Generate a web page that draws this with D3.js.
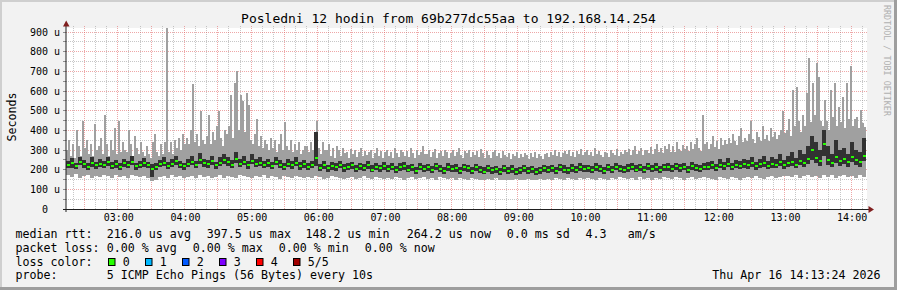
<!DOCTYPE html>
<html><head><meta charset="utf-8">
<script src="https://cdn.jsdelivr.net/npm/d3@7"></script>
<style>
html,body{margin:0;padding:0;background:#f2f2f2;}
svg{display:block;}
text{font-family:"DejaVu Sans Mono",monospace;}
</style></head><body><svg id="c" width="897" height="290"></svg>
<script>
const titleText = "Posledni 12 hodin from 69b277dc55aa to 192.168.14.254";
const startStamp = "2026-04-16 02:13:24";
const endStamp = "2026-04-16 14:13:24";
const yMajorTicks = [0,100,200,300,400,500,600,700,800,900];
const yMinorTicks = [50,150,250,350,450,550,650,750,850];
const yTickLabels = ["0  ","100 u","200 u","300 u","400 u","500 u","600 u","700 u","800 u","900 u"];

// maximum ping per 1.8-minute column (µs)
const maxSeries = [
300,350,270,330,260,400,320,270,450,310,
350,280,330,270,430,300,320,360,280,480,
330,270,350,300,410,280,450,290,340,300,
290,400,330,270,370,310,280,340,290,270,
320,280,260,340,380,290,270,330,280,340,
920,290,340,280,350,310,360,300,380,330,
360,330,400,635,340,380,320,500,350,330,
370,478,330,390,350,420,500,360,320,400,
380,420,580,360,640,700,400,580,550,390,
590,530,350,330,380,460,320,370,310,350,
330,300,360,310,350,290,330,380,300,440,
320,300,350,290,330,300,340,280,300,320,
320,290,340,300,330,450,310,280,340,300,
300,330,270,310,260,320,300,270,310,285,
290,260,305,280,300,265,290,310,270,295,
275,290,300,260,285,310,270,295,260,290,
300,270,290,260,310,285,265,300,290,270,
295,265,310,285,260,300,275,290,320,280,
280,300,265,290,305,260,285,295,270,300,
290,260,285,300,270,290,310,275,260,295,
285,300,265,290,275,295,265,305,285,260,
295,275,260,290,300,270,285,260,295,275,
265,285,255,280,270,290,260,280,265,285,
275,255,285,265,290,260,280,270,255,280,
285,265,290,275,300,270,290,265,285,295,
280,300,270,290,265,295,280,305,275,290,
300,275,290,270,310,280,295,275,265,290,
285,265,300,285,275,305,270,290,280,300,
290,305,275,300,320,280,295,310,275,300,
300,285,315,280,305,330,290,310,285,320,
305,330,290,320,290,340,305,295,325,305,
320,295,340,305,330,360,310,295,480,330,
340,305,330,370,315,345,305,360,325,350,
330,360,335,380,345,325,370,410,340,360,
345,380,450,355,335,390,365,345,420,355,
375,345,410,365,390,355,375,400,500,385,
400,460,370,605,420,622,450,390,480,420,
590,767,440,640,480,744,672,450,420,554,
450,400,605,470,640,420,520,440,571,410,
640,460,727,420,460,468,410,503,437,417];

// minimum ping per 3.6-minute column (µs)
const minSeries = [
175,165,180,160,170,175,160,170,165,175,
170,160,175,165,170,160,175,170,165,170,
160,140,150,165,170,160,175,165,170,160,
165,170,160,175,165,170,160,165,175,160,
170,165,160,175,170,165,160,170,165,175,
160,170,165,155,170,165,160,170,165,160,
165,160,170,165,155,160,170,165,160,155,
160,165,155,160,170,160,155,165,160,155,
160,155,165,160,150,160,165,155,160,165,
155,160,150,165,160,155,160,150,160,155,
150,160,155,150,145,155,150,160,150,145,
150,145,155,150,145,155,150,148,155,150,
155,150,160,155,150,160,155,150,160,155,
160,155,150,160,155,150,160,155,165,160,
155,160,150,165,155,160,150,160,155,165,
160,155,165,160,150,160,165,155,160,165,
160,155,150,165,160,155,165,160,150,160,
165,160,170,160,155,165,170,160,165,170,
170,165,175,160,170,175,165,170,160,175,
165,175,160,170,175,165,170,160,175,165];

// 2nd ping per 3.6-minute column (µs)
const lowerSeries = [
208,210,205,222,206,200,214,204,212,210,
220,204,210,196,214,208,222,200,210,216,
206,165,198,212,218,204,212,224,208,200,
212,222,208,230,214,210,226,204,218,228,
220,208,232,212,222,204,228,212,218,206,
214,202,222,208,196,212,204,218,200,210,
198,208,220,192,204,188,200,194,206,190,
196,202,188,198,192,204,186,198,190,200,
188,196,182,194,200,186,192,180,196,188,
192,184,198,186,180,194,186,190,178,192,
186,180,192,182,176,188,180,184,174,186,
178,184,174,180,186,176,182,172,180,186,
182,188,178,192,184,180,190,182,194,186,
188,182,194,186,180,192,184,196,188,182,
190,196,186,192,182,198,188,194,184,192,
194,186,198,190,196,184,200,192,188,196,
198,204,192,208,200,212,196,206,202,210,
204,212,200,208,216,202,210,206,218,204,
212,218,206,224,214,230,250,236,220,270,
226,214,236,220,230,214,240,224,216,244];

// median rtt per 3.6-minute column (µs)
const medianSeries = [
225,232,218,240,228,215,235,222,230,226,
238,220,228,215,232,224,240,218,226,234,
222,205,215,228,236,220,230,242,225,218,
230,240,225,250,232,228,245,222,236,248,
238,226,252,230,240,222,246,230,236,224,
232,220,240,226,214,230,222,236,218,228,
215,226,260,210,222,206,218,212,224,208,
214,224,202,218,208,226,200,216,206,220,
204,216,198,214,220,200,212,194,216,204,
212,198,218,204,194,214,202,210,192,212,
206,194,212,198,190,208,196,204,188,206,
194,204,188,200,208,192,202,186,198,206,
198,208,192,212,200,196,210,198,214,202,
208,198,214,202,194,212,200,216,204,198,
206,216,200,212,196,218,204,214,198,212,
214,202,218,206,216,198,220,208,204,216,
216,222,210,226,218,230,214,224,220,228,
222,232,218,228,236,220,230,226,238,224,
232,240,226,246,236,252,300,260,244,330,
250,236,262,244,256,238,266,248,240,270];

// 4th ping per 3.6-minute column (µs)
const upperSeries = [
245,258,236,265,250,232,262,240,252,244,
262,240,248,232,256,242,270,236,246,258,
240,230,234,250,262,238,252,270,244,236,
252,270,246,285,256,250,272,240,262,280,
265,248,290,255,270,242,280,252,262,246,
256,240,266,248,234,252,244,262,238,250,
236,246,393,230,242,226,238,232,246,228,
232,240,224,236,228,242,222,234,226,238,
226,234,218,232,238,222,230,216,234,224,
228,220,236,224,216,232,222,228,214,230,
222,216,230,218,212,226,216,220,210,224,
214,222,210,216,224,212,218,208,216,222,
220,226,214,230,222,216,228,218,232,222,
226,218,232,222,216,230,220,234,226,218,
228,234,222,230,218,236,226,232,220,230,
232,222,236,228,234,220,238,230,226,234,
238,246,230,252,240,258,234,248,244,256,
248,262,240,256,270,244,262,254,278,250,
268,290,258,300,282,320,370,340,300,400,
320,280,350,300,310,280,340,300,290,360];

const legendRtt = ["216.0 us avg","397.5 us max","148.2 us min","264.2 us now","0.0 ms sd","4.3","am/s"];
const legendLoss = ["0.00 % avg","0.00 % max","0.00 % min","0.00 % now"];
const lossLabels = ["0","1","2","3","4","5/5"];
const lossColors = ["#26ff00","#00b8ff","#0059ff","#7e00ff","#ff0000","#a10000"];
const probeText = "5 ICMP Echo Pings (56 Bytes) every 10s";
const dateText = "Thu Apr 16 14:13:24 2026";
const watermark = "RRDTOOL / TOBI OETIKER";

const svg = d3.select("#c");
const W = 897, H = 290;
const parseFull = d3.timeParse("%Y-%m-%d %H:%M:%S");
const t0 = parseFull(startStamp), t1 = parseFull(endStamp);
const x = d3.scaleTime().domain([t0, t1]).range([66, 866]);
const y = d3.scaleLinear().domain([0, 900]).range([209, 32]);
const px = v => Math.floor(v + 1e-6) + 0.5;
const spanMs = t1 - t0;

// frame
svg.append("rect").attr("width", W).attr("height", H).attr("fill", "#f2f2f2");
svg.append("rect").attr("x",0).attr("y",0).attr("width",W).attr("height",2).attr("fill","#cfcfcf");
svg.append("rect").attr("x",0).attr("y",0).attr("width",2).attr("height",H).attr("fill","#cfcfcf");
svg.append("rect").attr("x",0).attr("y",H-3).attr("width",W).attr("height",3).attr("fill","#9e9e9e");
svg.append("rect").attr("x",W-3).attr("y",0).attr("width",3).attr("height",H).attr("fill","#9e9e9e");

// canvas
svg.append("rect").attr("x", 66).attr("y", 28).attr("width", 801).attr("height", 181).attr("fill", "#fff");

// grid (below the data)
const gGrid = svg.append("g").attr("shape-rendering", "crispEdges");
const minorX = d3.timeMinute.every(10).range(t0, t1).filter(t => t.getMinutes() % 30 !== 0);
const majorX = d3.timeMinute.every(30).range(t0, t1);
const gridCol = "rgba(143,143,143,0.5)", mgridCol = "rgba(222,79,79,0.5)";
gGrid.selectAll("line.mx").data(minorX).join("line")
  .attr("x1", d => px(x(d))).attr("x2", d => px(x(d))).attr("y1", 26).attr("y2", 209)
  .attr("stroke", gridCol).attr("stroke-dasharray", "1,1");
gGrid.selectAll("line.my").data(yMinorTicks).join("line")
  .attr("x1", 66).attr("x2", 867).attr("y1", d => px(y(d))).attr("y2", d => px(y(d)))
  .attr("stroke", gridCol).attr("stroke-dasharray", "1,1");
gGrid.selectAll("line.Mx").data(majorX).join("line")
  .attr("x1", d => px(x(d))).attr("x2", d => px(x(d))).attr("y1", 26).attr("y2", 209)
  .attr("stroke", mgridCol).attr("stroke-dasharray", "1,1");
gGrid.selectAll("line.My").data(yMajorTicks.filter(v => v > 0)).join("line")
  .attr("x1", 66).attr("x2", 867).attr("y1", d => px(y(d))).attr("y2", d => px(y(d)))
  .attr("stroke", mgridCol).attr("stroke-dasharray", "1,1");
gGrid.selectAll("line.ty").data(yMajorTicks.concat(yMinorTicks)).join("line")
  .attr("x1", 63).attr("x2", 66).attr("y1", d => px(y(d))).attr("y2", d => px(y(d)))
  .attr("stroke", "#8f8f8f");

// data
const nCol = medianSeries.length, nFine = maxSeries.length;
const colTime = (i, n) => new Date(+t0 + spanMs * i / n);
const cols = d3.range(nCol).map(i => ({
  x0: x(colTime(i, nCol)), x1: x(colTime(i + 1, nCol)),
  lo: minSeries[i], q1: lowerSeries[i], q3: upperSeries[i], med: medianSeries[i]
}));
const fine = d3.range(nFine).map(j => ({
  x0: x(colTime(j, nFine)), x1: x(colTime(j + 1, nFine)),
  hi: maxSeries[j], lo: minSeries[Math.floor(j * nCol / nFine)]
}));

const gData = svg.append("g").attr("shape-rendering", "crispEdges");
gData.selectAll("rect.light").data(fine).join("rect").attr("class","light")
  .attr("x", d => d.x0).attr("width", d => d.x1 - d.x0)
  .attr("y", d => y(d.hi)).attr("height", d => y(d.lo) - y(d.hi))
  .attr("fill", "#a0a0a0");
gData.selectAll("rect.dark").data(cols).join("rect").attr("class","dark")
  .attr("x", d => d.x0).attr("width", d => d.x1 - d.x0)
  .attr("y", d => y(d.q3)).attr("height", d => y(d.q1) - y(d.q3))
  .attr("fill", "#323232");
gData.selectAll("rect.med").data(cols).join("rect").attr("class","med")
  .attr("x", d => d.x0 + 0.5).attr("width", 3)
  .attr("y", d => y(d.med) - 1).attr("height", 2)
  .attr("fill", "#26ff00");

// axes
svg.append("line").attr("x1", 66).attr("x2", 66).attr("y1", 24).attr("y2", 212)
  .attr("stroke", "#1f1f1f").attr("stroke-width", 1);
svg.append("line").attr("x1", 63).attr("x2", 869).attr("y1", 209.5).attr("y2", 209.5)
  .attr("stroke", "#1f1f1f").attr("shape-rendering", "crispEdges");
svg.append("path").attr("d", "M63,26.5L69.5,26.5L66.2,20.5Z").attr("fill", "#801f1f");
svg.append("path").attr("d", "M868.5,206L868.5,213L874,209.5Z").attr("fill", "#801f1f");

const hours = d3.timeHour.every(1).range(t0, t1);
const xAxis = d3.axisBottom(x).tickValues(hours).tickSize(0).tickPadding(0)
  .tickFormat(d3.timeFormat("%H:%M"));
const gx = svg.append("g").attr("transform", "translate(0.5,0)").call(xAxis);
gx.select(".domain").remove();
gx.selectAll("text").attr("y", 221.3).attr("dy", null)
  .attr("font-family", "DejaVu Sans Mono").attr("font-size", 10).attr("fill", "#000");

const yAxis = d3.axisLeft(y).tickValues(yMajorTicks).tickSize(0).tickPadding(0)
  .tickFormat((d, i) => yTickLabels[i]);
const gy = svg.append("g").attr("transform", "translate(60,0)").call(yAxis);
gy.select(".domain").remove();
gy.selectAll(".tick").attr("transform", d => `translate(0,${px(y(d))})`);
gy.selectAll("text").attr("x", 0).attr("dy", null).attr("y", 3.6)
  .attr("font-family", "DejaVu Sans Mono").attr("font-size", 10).attr("fill", "#000")
  .style("white-space", "pre").attr("text-anchor", "end");

// title
svg.append("text").attr("x", 448.5).attr("y", 23.3).attr("text-anchor", "middle")
  .attr("font-size", 13).attr("fill", "#000").text(titleText);
svg.append("text").attr("transform", "translate(15.5,117) rotate(-90)")
  .attr("text-anchor", "middle").attr("font-size", 11.65).attr("fill", "#000").text("Seconds");
svg.append("text").attr("transform", "translate(884,5) rotate(90)")
  .attr("text-anchor", "start").attr("font-size", 8.4).attr("fill", "#b0b0b0").text(watermark);

// legend
const lg = svg.append("g").attr("font-size", 11.65).attr("fill", "#000");
const lineY = [238.3, 252, 265.7, 279.3];
const addT = (xx, yy, s, anchor) => lg.append("text").attr("x", xx).attr("y", yy)
  .attr("text-anchor", anchor || "start").style("white-space", "pre").text(s);
addT(15.5, lineY[0], "median rtt:");
const rttX = [106.8, 206.8, 305.5, 406.8, 506.8, 585.5, 627.8];
legendRtt.forEach((s, i) => addT(rttX[i], lineY[0], s));
addT(15.5, lineY[1], "packet loss:");
legendLoss.forEach((s, i) => addT(106.8 + i * 86, lineY[1], s));
addT(15.5, lineY[2], "loss color:");
lossLabels.forEach((s, i) => {
  const bx = 108.5 + i * 37;
  lg.append("rect").attr("x", bx).attr("y", 258.5).attr("width", 6.5).attr("height", 7)
    .attr("fill", lossColors[i]).attr("stroke", "#000").attr("stroke-width", 1);
  addT(bx + 14.3, lineY[2], s);
});
addT(15.5, lineY[3], "probe:");
addT(106.8, lineY[3], probeText);
addT(880.5, lineY[3], dateText, "end");
</script></body></html>
